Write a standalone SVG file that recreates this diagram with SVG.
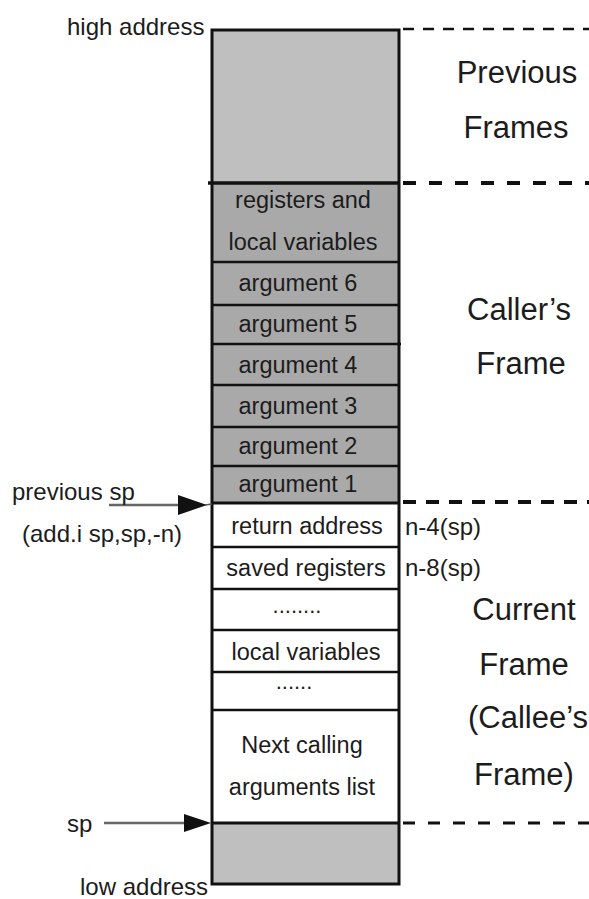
<svg xmlns="http://www.w3.org/2000/svg" width="589" height="899" viewBox="0 0 589 899">
<style>
  text { font-family: "Liberation Sans", Arial, sans-serif; fill: #1c1c1c; }
  .lbl { font-size: 23.5px; text-anchor: middle; }
  .side { font-size: 24px; }
  .big { font-size: 31px; text-anchor: middle; }
  .dots { font-size: 22px; text-anchor: middle; }
  .light { fill: #bfbfbf; }
  .dark { fill: #a9a9a9; }
  .white { fill: #ffffff; }
  .div { stroke: #111; stroke-width: 2.5; }
  .dash { stroke: #111; fill: none; }
  .arr { stroke: #666; stroke-width: 2.5; }
</style>
<rect width="589" height="899" fill="#ffffff"/>

<g id="previous-frames">
  <rect class="light" x="212" y="30" width="187" height="153"/>
</g>
<g id="caller-frame">
  <g id="registers-locals">
    <rect class="dark" x="212" y="183" width="187" height="79"/>
    <text class="lbl" x="303" y="208">registers and</text>
    <text class="lbl" x="303" y="250">local variables</text>
  </g>
  <g id="arg6"><rect class="dark" x="212" y="262" width="187" height="43"/><text class="lbl" x="298" y="291">argument 6</text></g>
  <g id="arg5"><rect class="dark" x="212" y="305" width="187" height="39"/><text class="lbl" x="298" y="332">argument 5</text></g>
  <g id="arg4"><rect class="dark" x="212" y="344" width="187" height="41"/><text class="lbl" x="298" y="373">argument 4</text></g>
  <g id="arg3"><rect class="dark" x="212" y="385" width="187" height="42"/><text class="lbl" x="298" y="414">argument 3</text></g>
  <g id="arg2"><rect class="dark" x="212" y="427" width="187" height="39"/><text class="lbl" x="298" y="454">argument 2</text></g>
  <g id="arg1"><rect class="dark" x="212" y="466" width="187" height="37"/><text class="lbl" x="298" y="492">argument 1</text></g>
</g>
<g id="current-frame">
  <g id="return-address"><rect class="white" x="212" y="503" width="187" height="44"/><text class="lbl" x="307" y="534">return address</text></g>
  <g id="saved-registers"><rect class="white" x="212" y="547" width="187" height="42"/><text class="lbl" x="306" y="576">saved registers</text></g>
  <g id="dots1"><rect class="white" x="212" y="589" width="187" height="41"/><text class="dots" x="297" y="613">........</text></g>
  <g id="local-variables"><rect class="white" x="212" y="630" width="187" height="42"/><text class="lbl" x="306" y="660">local variables</text></g>
  <g id="dots2"><rect class="white" x="212" y="672" width="187" height="38"/><text class="dots" x="294" y="689">......</text></g>
  <g id="next-args"><rect class="white" x="212" y="710" width="187" height="113"/>
    <text class="lbl" x="302" y="753">Next calling</text>
    <text class="lbl" x="302" y="795">arguments list</text></g>
</g>
<g id="below-sp">
  <rect class="light" x="212" y="823" width="187" height="61"/>
</g>

<g id="dividers">
  <line class="div" x1="212" y1="262" x2="398" y2="262"/>
  <line class="div" x1="212" y1="305" x2="399" y2="305"/>
  <line class="div" x1="212" y1="344" x2="401" y2="344"/>
  <line class="div" x1="212" y1="385" x2="399" y2="385"/>
  <line class="div" x1="212" y1="427" x2="399" y2="427"/>
  <line class="div" x1="212" y1="466" x2="399" y2="466"/>
  <line class="div" x1="212" y1="547" x2="399" y2="547"/>
  <line class="div" x1="212" y1="589" x2="399" y2="589"/>
  <line class="div" x1="212" y1="630" x2="399" y2="630"/>
  <line class="div" x1="212" y1="672" x2="399" y2="672"/>
  <line class="div" x1="212" y1="710" x2="399" y2="710"/>
  <line x1="208" y1="183" x2="400" y2="183" stroke="#111" stroke-width="3.5"/>
  <line x1="212" y1="503" x2="400" y2="503" stroke="#111" stroke-width="3"/>
  <line x1="212" y1="823" x2="400" y2="823" stroke="#111" stroke-width="3"/>
</g>
<rect x="212" y="30" width="187" height="854" fill="none" stroke="#111" stroke-width="3"/>

<g id="connectors">
  <line class="dash" x1="403" y1="29" x2="589" y2="29" stroke-width="2.5" stroke-dasharray="11 9"/>
  <line class="dash" x1="403" y1="183" x2="589" y2="183" stroke-width="4" stroke-dasharray="13 13"/>
  <line class="dash" x1="403" y1="502" x2="589" y2="502" stroke-width="4" stroke-dasharray="13 10"/>
  <line class="dash" x1="403" y1="823" x2="589" y2="823" stroke-width="3" stroke-dasharray="12 13"/>
  <line class="arr" x1="109" y1="505" x2="182" y2="505"/>
  <polygon points="178,495 207,505 178,515" fill="#111"/>
  <line x1="205" y1="505" x2="212" y2="504" stroke="#555" stroke-width="1.5"/>
  <line class="arr" x1="104" y1="823" x2="188" y2="823"/>
  <polygon points="184,814 211,823 184,832" fill="#111"/>
</g>

<g id="left-labels">
  <text class="side" x="67" y="35">high address</text>
  <text class="side" x="12" y="500">previous sp</text>
  <text class="side" x="22" y="542">(add.i sp,sp,-n)</text>
  <text class="side" x="67" y="832">sp</text>
  <text class="side" x="80" y="895">low address</text>
</g>
<g id="offset-labels">
  <text class="side" x="405" y="535">n-4(sp)</text>
  <text class="side" x="405" y="576">n-8(sp)</text>
</g>
<g id="frame-labels">
  <text class="big" x="517" y="83">Previous</text>
  <text class="big" x="516" y="138">Frames</text>
  <text class="big" x="519" y="320">Caller’s</text>
  <text class="big" x="521" y="374">Frame</text>
  <text class="big" x="524" y="620">Current</text>
  <text class="big" x="524" y="675">Frame</text>
  <text class="big" x="528" y="728">(Callee’s</text>
  <text class="big" x="524" y="785">Frame)</text>
</g>
</svg>
